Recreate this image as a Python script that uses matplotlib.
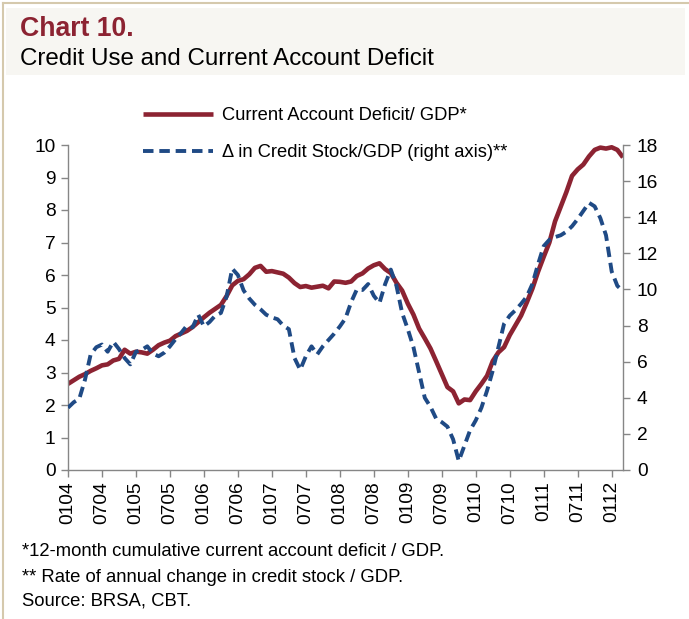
import matplotlib
matplotlib.use("Agg")
import matplotlib.pyplot as plt
from matplotlib.patches import Rectangle
from matplotlib.lines import Line2D

plt.rcParams['font.family'] = ['Liberation Sans', 'DejaVu Sans']

# Monthly data, Jan 2004 .. Mar 2012
ca_deficit = [
    2.65, 2.76, 2.87, 2.95, 3.05, 3.13, 3.22, 3.25, 3.37, 3.42,
    3.70, 3.58, 3.64, 3.62, 3.58, 3.70, 3.84, 3.92, 3.98, 4.12,
    4.20, 4.28, 4.40, 4.55, 4.70, 4.84, 4.96, 5.08, 5.35, 5.68,
    5.82, 5.87, 6.02, 6.22, 6.28, 6.10, 6.12, 6.08, 6.04, 5.92,
    5.75, 5.63, 5.66, 5.61, 5.64, 5.67, 5.59, 5.80, 5.79, 5.76,
    5.80, 5.97, 6.05, 6.20, 6.30, 6.36, 6.18, 6.06, 5.76, 5.52,
    5.12, 4.78, 4.35, 4.05, 3.74, 3.35, 2.95, 2.55, 2.42, 2.05,
    2.17, 2.15, 2.42, 2.65, 2.90, 3.35, 3.62, 3.78, 4.15, 4.45,
    4.75, 5.15, 5.58, 6.10, 6.56, 7.00, 7.65, 8.10, 8.55, 9.05,
    9.25, 9.40, 9.65, 9.85, 9.92, 9.89, 9.93, 9.85, 9.62,
]
credit_change = [
    3.45, 3.75, 3.95, 5.00, 6.40, 6.80, 6.95, 6.55, 7.10, 6.70,
    6.20, 5.85, 6.55, 6.65, 6.85, 6.45, 6.30, 6.50, 6.85, 7.25,
    7.60, 8.00, 7.90, 8.60, 7.95, 8.20, 8.55, 8.70, 9.60, 11.15,
    10.80, 9.95, 9.50, 9.15, 8.90, 8.60, 8.45, 8.35, 8.00, 7.80,
    6.20, 5.55, 6.30, 6.85, 6.40, 6.85, 7.20, 7.55, 7.95, 8.40,
    9.30, 10.00, 9.97, 10.30, 9.65, 9.25, 10.30, 11.10, 10.20, 8.70,
    7.80, 6.80, 5.40, 4.00, 3.50, 2.85, 2.65, 2.40, 1.70, 0.50,
    1.35, 2.20, 2.75, 3.45, 4.40, 5.50, 6.80, 8.10, 8.55, 8.85,
    9.20, 9.60, 10.30, 11.40, 12.40, 12.75, 12.90, 13.00, 13.20, 13.50,
    13.90, 14.35, 14.80, 14.60, 13.95, 13.00, 11.00, 10.20, 9.90,
]
x_labels = ['0104', '0704', '0105', '0705', '0106', '0706', '0107', '0707',
            '0108', '0708', '0109', '0709', '0110', '0710', '0111', '0711', '0112']
left_ticks = list(range(0, 11))
right_ticks = list(range(0, 19, 2))

RED = '#8c2332'
BLUE = '#1f4a85'
AXC = '#868686'

W, H = 689, 619
fig = plt.figure(figsize=(W / 100, H / 100), dpi=100)
fig.patch.set_facecolor('white')

# border lines and title band
fig.add_artist(Rectangle((6 / W, 1 - 75 / H), (685 - 6) / W, (75 - 8) / H,
                         transform=fig.transFigure, facecolor='#f7f6f2', edgecolor='none', zorder=0))
fig.add_artist(Line2D([2.5 / W, 2.5 / W], [0, 1 - 2.5 / H], transform=fig.transFigure,
                      color='#d5c9ad', lw=1.5))
fig.add_artist(Line2D([2.5 / W, 1], [1 - 2.5 / H, 1 - 2.5 / H], transform=fig.transFigure,
                      color='#d5c9ad', lw=1.5))

fig.text(20 / W, 1 - 29 / H, 'Chart 10.', color=RED, fontsize=19.2, fontweight='bold',
         va='center', ha='left')
fig.text(20 / W, 1 - 59 / H, 'Credit Use and Current Account Deficit', color='black',
         fontsize=17.4, va='center', ha='left')

left, right, top, bottom = 68, 623, 145, 470
ax = fig.add_axes([left / W, 1 - bottom / H, (right - left) / W, (bottom - top) / H])
ax2 = ax.twinx()

xs = list(range(len(ca_deficit)))
l1, = ax.plot(xs, ca_deficit, color=RED, lw=3.3, solid_capstyle='butt', solid_joinstyle='round',
              label='Current Account Deficit/ GDP*')
l2, = ax2.plot(xs, credit_change, color=BLUE, lw=2.8, linestyle=(0, (2.7, 1.5)),
               dash_capstyle='butt', label='Δ in Credit Stock/GDP (right axis)**')

ax.set_xlim(0, len(xs) - 1)
ax.set_ylim(0, 10)
ax2.set_ylim(0, 18)
ax.set_yticks(left_ticks)
ax2.set_yticks(right_ticks)
ax.set_xticks(range(0, 6 * len(x_labels), 6))
ax.set_xticklabels(x_labels, rotation=90)

for a in (ax, ax2):
    for s in a.spines.values():
        s.set_color(AXC)
        s.set_linewidth(1.0)
    a.spines['top'].set_visible(False)
ax.spines['right'].set_visible(False)
ax2.spines['left'].set_visible(False)
ax2.spines['bottom'].set_visible(False)

ax.tick_params(axis='y', direction='out', length=5, width=1, color=AXC, labelsize=13.8, pad=4)
ax.tick_params(axis='x', direction='out', length=5, width=1, color=AXC, labelsize=13.8, pad=3)
ax2.tick_params(axis='y', direction='out', length=5, width=1, color=AXC, labelsize=13.8, pad=5)

leg = fig.legend(handles=[l1, l2], loc='upper left', bbox_to_anchor=(143 / W, 1 - 107 / H),
                 frameon=False, fontsize=13.2, handlelength=3.8, handletextpad=0.5,
                 labelspacing=1.1, borderpad=0, borderaxespad=0)

fig.text(22 / W, 1 - 552 / H, '*12-month cumulative current account deficit / GDP.', fontsize=13.3,
         va='center', ha='left')
fig.text(22 / W, 1 - 577 / H, '** Rate of annual change in credit stock / GDP.', fontsize=13.3,
         va='center', ha='left')
fig.text(22 / W, 1 - 601 / H, 'Source: BRSA, CBT.', fontsize=13.3, va='center', ha='left')

fig.savefig('out.png', dpi=100)
